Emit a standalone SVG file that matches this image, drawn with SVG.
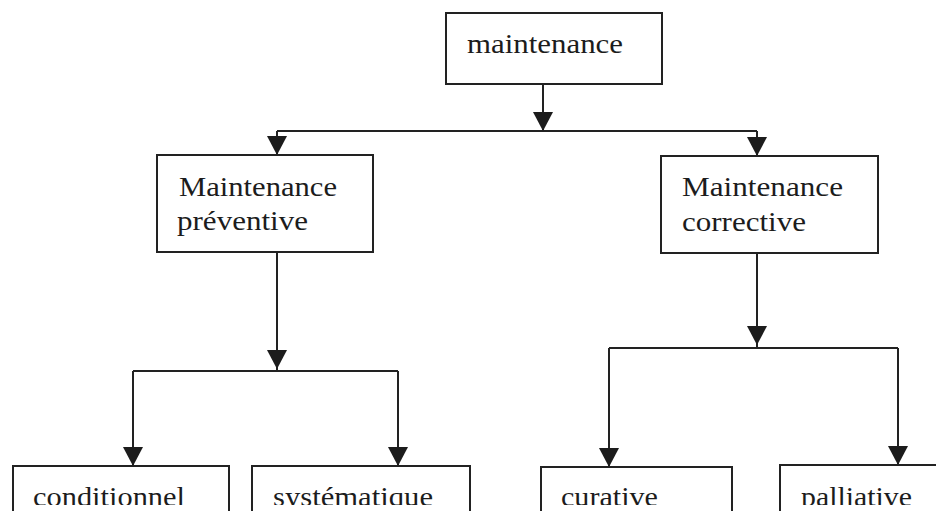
<svg xmlns="http://www.w3.org/2000/svg" width="936" height="511" viewBox="0 0 936 511">
  <style>
    .box { fill: none; stroke: #222; stroke-width: 2; }
    .wire { fill: none; stroke: #222; stroke-width: 2; }
    .head { fill: #1c1c1c; }
    .label { font-family: "Liberation Serif", "Times New Roman", serif; font-size: 27px; fill: #1c1c1c; }
  </style>
  <defs>
    <!-- downward arrowhead, tip at origin -->
    <path id="arrowhead" class="head" d="M-10,-19 L10,-19 L0,0 Z"/>
    <clipPath id="page-bottom">
      <rect x="0" y="0" width="936" height="505"/>
    </clipPath>
  </defs>
  <rect width="936" height="511" fill="#fff"/>

  <g id="connectors">
    <!-- root to first level -->
    <path class="wire" d="M543,84 V131"/>
    <path class="wire" d="M277,131 H757"/>
    <path class="wire" d="M277,131 V155"/>
    <path class="wire" d="M757,131 V156"/>
    <!-- preventive branch -->
    <path class="wire" d="M277,252 V371"/>
    <path class="wire" d="M133,371 H398"/>
    <path class="wire" d="M133,371 V466"/>
    <path class="wire" d="M398,371 V466"/>
    <!-- corrective branch -->
    <path class="wire" d="M757,253 V348"/>
    <path class="wire" d="M609,348 H898"/>
    <path class="wire" d="M609,348 V467"/>
    <path class="wire" d="M898,348 V465"/>
    <!-- arrowheads -->
    <use href="#arrowhead" x="543" y="131"/>
    <use href="#arrowhead" x="277" y="155"/>
    <use href="#arrowhead" x="757" y="156"/>
    <use href="#arrowhead" x="277" y="369"/>
    <use href="#arrowhead" x="133" y="466"/>
    <use href="#arrowhead" x="398" y="466"/>
    <use href="#arrowhead" x="757" y="345"/>
    <use href="#arrowhead" x="609" y="467"/>
    <use href="#arrowhead" x="898" y="465"/>
  </g>

  <g id="node-maintenance">
    <rect class="box" x="446" y="13" width="216" height="71"/>
    <text class="label" x="467" y="53" textLength="156" lengthAdjust="spacingAndGlyphs">maintenance</text>
  </g>

  <g id="node-preventive">
    <rect class="box" x="157" y="155" width="216" height="97"/>
    <text class="label" x="179" y="196" textLength="158" lengthAdjust="spacingAndGlyphs">Maintenance</text>
    <text class="label" x="177" y="230" textLength="131" lengthAdjust="spacingAndGlyphs">préventive</text>
  </g>

  <g id="node-corrective">
    <rect class="box" x="661" y="156" width="217" height="97"/>
    <text class="label" x="682" y="196" textLength="161" lengthAdjust="spacingAndGlyphs">Maintenance</text>
    <text class="label" x="682" y="231" textLength="124" lengthAdjust="spacingAndGlyphs">corrective</text>
  </g>

  <g id="node-conditionnel">
    <rect class="box" x="13" y="466" width="216" height="80"/>
    <text class="label" x="33" y="506" textLength="152" lengthAdjust="spacingAndGlyphs" clip-path="url(#page-bottom)">conditionnel</text>
  </g>

  <g id="node-systematique">
    <rect class="box" x="252" y="466" width="218" height="80"/>
    <text class="label" x="273" y="506" textLength="160" lengthAdjust="spacingAndGlyphs" clip-path="url(#page-bottom)">systématique</text>
  </g>

  <g id="node-curative">
    <rect class="box" x="541" y="467" width="191" height="80"/>
    <text class="label" x="561" y="506" textLength="97" lengthAdjust="spacingAndGlyphs" clip-path="url(#page-bottom)">curative</text>
  </g>

  <g id="node-palliative">
    <rect class="box" x="780" y="465" width="200" height="80"/>
    <text class="label" x="801" y="506" textLength="111" lengthAdjust="spacingAndGlyphs" clip-path="url(#page-bottom)">palliative</text>
  </g>
</svg>
